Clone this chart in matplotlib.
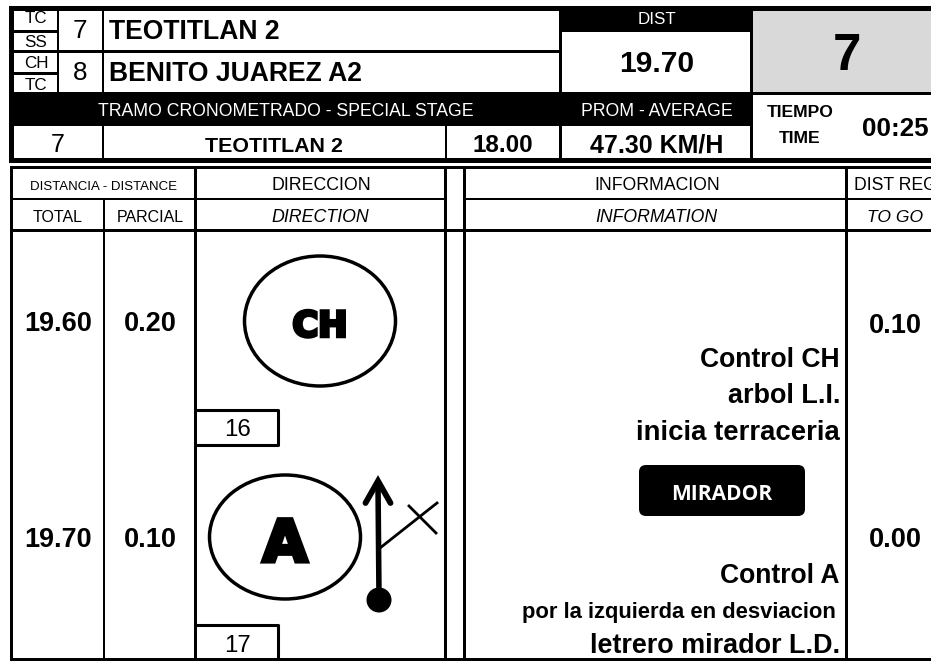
import matplotlib
matplotlib.use("Agg")
import matplotlib.pyplot as plt
import matplotlib.patheffects as pe
from matplotlib.patches import Rectangle, Ellipse, FancyBboxPatch, Circle

plt.rcParams['font.family'] = ['Liberation Sans', 'DejaVu Sans']

stage_codes = ["TC", "SS", "CH", "TC"]
stage_numbers = ["7", "8"]
stage_names = ["TEOTITLAN 2", "BENITO JUAREZ A2"]
dist_label = "DIST"
dist_value = "19.70"
section_number = "7"
band_labels = ["TRAMO CRONOMETRADO - SPECIAL STAGE", "PROM - AVERAGE"]
ss_row = ["7", "TEOTITLAN 2", "18.00", "47.30 KM/H"]
time_labels = ["TIEMPO", "TIME"]
time_value = "00:25"
head_top = ["DISTANCIA - DISTANCE", "DIRECCION", "INFORMACION", "DIST REG"]
head_bottom = ["TOTAL", "PARCIAL", "DIRECTION", "INFORMATION", "TO GO"]
totals = ["19.60", "19.70"]
partials = ["0.20", "0.10"]
to_go = ["0.10", "0.00"]
controls = ["CH", "A"]
box_numbers = ["16", "17"]
info_1 = ["Control CH", "arbol L.I.", "inicia terraceria"]
info_2 = ["Control A", "por la izquierda en desviacion", "letrero mirador L.D."]
badge = "MIRADOR"

fig = plt.figure(figsize=(9.31, 6.61), dpi=100)
ax = fig.add_axes([0, 0, 1, 1])
ax.set_xlim(0, 931)
ax.set_ylim(661, 0)
ax.axis("off")

def box(x0, y0, x1, y1, c="black", z=1):
    ax.add_patch(Rectangle((x0, y0), x1 - x0, y1 - y0, fc=c, ec="none", zorder=z))

def t(x, y, s, px, ha="center", w="normal", c="black", st="normal", fam=None, fat=0):
    kw = {"family": fam} if fam else {}
    tx = ax.text(x, y, s, fontsize=px * 0.72, ha=ha, va="center_baseline", fontweight=w,
                 color=c, fontstyle=st, zorder=5, clip_on=True, **kw)
    if fat:
        tx.set_path_effects([pe.Stroke(linewidth=fat, foreground=c, joinstyle="miter"), pe.Normal()])

# top table
box(9, 6, 931, 163)
box(14, 11, 559, 92, "white")
box(562, 32, 750, 92, "white")
box(753, 11, 931, 92, "#D9D9D9")
box(753, 95, 931, 158, "white")
box(14, 126, 102, 158, "white")
box(104, 126, 445, 158, "white")
box(447, 126, 559, 158, "white")
box(562, 126, 750, 158, "white")
box(57, 11, 59, 92)
box(102, 11, 104, 92)
box(14, 50, 559, 53)
box(14, 30, 57, 32.5)
box(14, 72, 57, 74.5)

t(36, 17, stage_codes[0], 17)
t(36, 41, stage_codes[1], 17)
t(36, 62, stage_codes[2], 17)
t(36, 84, stage_codes[3], 17)
t(80, 29, stage_numbers[0], 26)
t(80, 71, stage_numbers[1], 26)
t(109, 29, stage_names[0], 26.5, "left", "bold")
t(109, 71, stage_names[1], 26.5, "left", "bold")
t(657, 18, dist_label, 17, c="white")
t(657, 61, dist_value, 30, w="bold")
t(847, 51, section_number, 51, w="bold")
t(286, 110, band_labels[0], 17.6, c="white")
t(657, 110, band_labels[1], 17.6, c="white")
t(58, 142, ss_row[0], 25)
t(274, 145, ss_row[1], 21.4, w="bold")
t(503, 143, ss_row[2], 24.3, w="bold")
t(657, 143, ss_row[3], 25, w="bold")
t(800, 111, time_labels[0], 17.5, w="bold")
t(800, 137, time_labels[1], 17.5, w="bold")
t(895, 126, time_value, 26, w="bold")

# lower table
box(10, 166, 931, 661)
box(13, 169, 194, 198, "white")
box(197, 169, 444, 198, "white")
box(447, 169, 463, 229, "white")
box(466, 169, 845, 198, "white")
box(848, 169, 931, 198, "white")
box(13, 200, 103, 229, "white")
box(105, 200, 194, 229, "white")
box(197, 200, 444, 229, "white")
box(466, 200, 845, 229, "white")
box(848, 200, 931, 229, "white")
box(13, 232, 103, 658, "white")
box(105, 232, 194, 658, "white")
box(197, 232, 444, 658, "white")
box(447, 232, 463, 658, "white")
box(466, 232, 845, 658, "white")
box(848, 232, 931, 658, "white")

t(104, 185, head_top[0], 13.2)
t(321, 184, head_top[1], 17.8)
t(657, 184, head_top[2], 17.6)
t(854, 184, head_top[3], 17.6, "left")
t(58, 216, head_bottom[0], 16)
t(150, 216, head_bottom[1], 16)
t(320, 216, head_bottom[2], 17.8, st="italic")
t(656, 216, head_bottom[3], 17.6, st="italic")
t(895, 216, head_bottom[4], 17.5, st="italic")

row_y = [321, 537]
for i in range(2):
    t(58, row_y[i], totals[i], 27, w="bold")
    t(150, row_y[i], partials[i], 27, w="bold")
    t(895, row_y[i] + (2 if i == 0 else 0), to_go[i], 27, w="bold")

# direction symbols
ax.add_patch(Ellipse((320, 321), 151, 130, fc="white", ec="black", lw=2.5, zorder=3))
ax.add_patch(Ellipse((285, 537), 151, 124, fc="white", ec="black", lw=2.5, zorder=3))
t(320, 323, controls[0], 35, w="bold", fam="DejaVu Sans", fat=2.5)
t(285, 539, controls[1], 58, w="bold", fam="DejaVu Sans", fat=3)
for yb, ye in ((410, 445), (625, 665)):
    ax.plot([197, 278, 278, 197], [yb, yb, ye, ye], color="black", lw=2.2, zorder=3)
t(237, 428, box_numbers[0], 24)
t(237, 644, box_numbers[1], 24)

ax.plot([378, 379], [484, 597], color="black", lw=4, zorder=4)
ax.plot([365.5, 378, 390.5], [503, 481, 503], color="black", lw=4.2, zorder=4,
        solid_capstyle="round", solid_joinstyle="miter")
ax.add_patch(Circle((379, 600), 12.5, fc="black", ec="none", zorder=4))
ax.plot([380, 437], [548, 503], color="black", lw=2, zorder=4)
ax.plot([409, 436], [506, 533], color="black", lw=2, zorder=4)

# information
for y, s, px in zip([357, 393, 430], info_1, [26.5, 27, 27.5]):
    t(840, y, s, px, "right", "bold")
for y, s, px, x in zip([573, 610, 643], info_2, [26.5, 22, 27], [840, 836, 840]):
    t(x, y, s, px, "right", "bold")
ax.add_patch(FancyBboxPatch((639, 465), 166, 51, boxstyle="round,pad=0,rounding_size=7",
                            fc="black", ec="none", zorder=3))
t(722, 492, badge, 21, w="bold", c="white", fam="Open Sans")

fig.savefig("out.png", dpi=100)
